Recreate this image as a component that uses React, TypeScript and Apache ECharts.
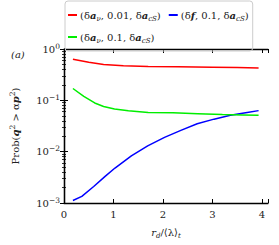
import React, { useEffect, useRef } from "react";
import * as echarts from "echarts";

const redX = [0.18, 0.5, 0.8, 1.2, 1.7, 2.3, 3.0, 3.5, 3.93];
const redY = [0.63, 0.55, 0.5, 0.47, 0.455, 0.45, 0.44, 0.435, 0.425];
const greenX = [0.18, 0.4, 0.62, 0.8, 1.02, 1.3, 1.7, 2.2, 2.7, 3.2, 3.6, 3.93];
const greenY = [0.17, 0.12, 0.089, 0.076, 0.068, 0.063, 0.058, 0.057, 0.055, 0.053, 0.052, 0.051];
const blueX = [0.18, 0.36, 0.6, 0.83, 1.03, 1.36, 1.69, 2.03, 2.36, 2.69, 3.03, 3.36, 3.7, 3.93];
const blueY = [0.00112, 0.00135, 0.0021, 0.0033, 0.0048, 0.0083, 0.013, 0.019, 0.026, 0.035, 0.043, 0.051, 0.058, 0.063];
const xTicks = [0, 1, 2, 3, 4];

const FONT = "DejaVu Serif";
const COL = "#222";

const zip = (xs: number[], ys: number[]) => xs.map((x, i) => [x, ys[i]]);

const legendNames = ["red", "blue", "green"];
const legendLabels: Record<string, string> = {
  red: "(δ{b|a}{s|ν}, 0.01, δ{b|a}{s|cS})",
  blue: "(δ{b|f}, 0.1, δ{b|a}{s|cS})",
  green: "(δ{b|a}{s|ν}, 0.1, δ{b|a}{s|cS})",
};

const richBase = {
  b: { fontFamily: FONT, fontSize: 10, fontStyle: "italic", fontWeight: "bold", color: COL, lineHeight: 14, verticalAlign: "middle" },
  i: { fontFamily: FONT, fontSize: 10, fontStyle: "italic", color: COL, lineHeight: 14, verticalAlign: "middle" },
  s: { fontFamily: FONT, fontSize: 7, fontStyle: "italic", color: COL, lineHeight: 7, verticalAlign: "bottom" },
  sup: { fontFamily: FONT, fontSize: 7.5, color: COL, lineHeight: 7, verticalAlign: "top" },
};

export default function App() {
  const ref = useRef<HTMLDivElement>(null);
  useEffect(() => {
    const chart = echarts.init(ref.current!, undefined, { renderer: "svg" });
    const axisLine = { show: true, lineStyle: { color: "#000", width: 1.3 } };
    const tick = { show: true, inside: true, length: 4, lineStyle: { color: "#000", width: 1 } };
    const minor = { show: true, splitNumber: 9, length: 2, lineStyle: { color: "#000", width: 0.8 } };
    chart.setOption({
      animation: false,
      textStyle: { fontFamily: FONT },
      grid: { left: 62, right: 11, top: 49, bottom: 42 },
      legend: {
        data: legendNames,
        left: 65,
        top: 1,
        width: 200,
        itemGap: 8,
        itemWidth: 9,
        itemHeight: 2,
        icon: "rect",
        padding: [7, 4, 7, 3],
        borderColor: "#ccc",
        borderWidth: 1,
        borderRadius: 3,
        formatter: (n: string) => legendLabels[n],
        textStyle: {
          fontFamily: FONT,
          fontSize: 10,
          color: COL,
          lineHeight: 14,
          padding: [0, 0, 0, -2],
          rich: richBase,
        },
      },
      xAxis: [
        {
          type: "value",
          min: 0,
          max: 4.12,
          interval: 1,
          axisLine,
          axisTick: tick,
          splitLine: { show: false },
          axisLabel: {
            fontFamily: FONT,
            fontSize: 10,
            color: COL,
            margin: 6,
            formatter: (v: number) => (xTicks.includes(v) ? String(v) : ""),
          },
          name: "{i|r}{s|d}/⟨λ⟩{s|t}",
          nameLocation: "middle",
          nameGap: 22,
          nameTextStyle: { fontFamily: FONT, fontSize: 10, color: COL, lineHeight: 14, rich: richBase },
        },
        {
          type: "value",
          position: "top",
          min: 0,
          max: 4.12,
          interval: 1,
          axisLine,
          axisTick: tick,
          axisLabel: { show: false },
          splitLine: { show: false },
        },
      ],
      yAxis: [
        {
          type: "log",
          min: 0.001,
          max: 1,
          logBase: 10,
          axisLine,
          axisTick: tick,
          minorTick: minor,
          splitLine: { show: false },
          axisLabel: {
            fontFamily: FONT,
            fontSize: 10,
            color: COL,
            lineHeight: 14,
            margin: 4,
            formatter: (v: number) => {
              const e = Math.round(Math.log10(v));
              return "10{sup|" + (e < 0 ? "−" + -e : String(e)) + "}";
            },
            rich: richBase,
          },
          name: "Prob({b|q}{sup|2} > α{b|p}{sup|2})",
          nameLocation: "middle",
          nameGap: 42,
          nameRotate: 90,
          nameTextStyle: { fontFamily: FONT, fontSize: 10, color: COL, lineHeight: 14, rich: richBase },
        },
        {
          type: "log",
          position: "right",
          min: 0.001,
          max: 1,
          logBase: 10,
          axisLine,
          axisTick: tick,
          minorTick: minor,
          axisLabel: { show: false },
          splitLine: { show: false },
        },
      ],
      graphic: [
        {
          type: "text",
          left: 11,
          top: 49,
          style: { text: "(a)", fontFamily: FONT, fontSize: 10, fontStyle: "italic", fill: COL },
        },
      ],
      series: [
        { name: "red", type: "line", data: zip(redX, redY), showSymbol: false, lineStyle: { color: "#ff0000", width: 1.5 }, itemStyle: { color: "#ff0000" } },
        { name: "blue", type: "line", data: zip(blueX, blueY), showSymbol: false, lineStyle: { color: "#0000ff", width: 1.5 }, itemStyle: { color: "#0000ff" } },
        { name: "green", type: "line", data: zip(greenX, greenY), showSymbol: false, lineStyle: { color: "#00ee00", width: 1.5 }, itemStyle: { color: "#00ee00" } },
      ],
    });
    return () => chart.dispose();
  }, []);
  return <div ref={ref} style={{ width: 279, height: 245, position: "absolute", left: 0, top: 0 }} />;
}
